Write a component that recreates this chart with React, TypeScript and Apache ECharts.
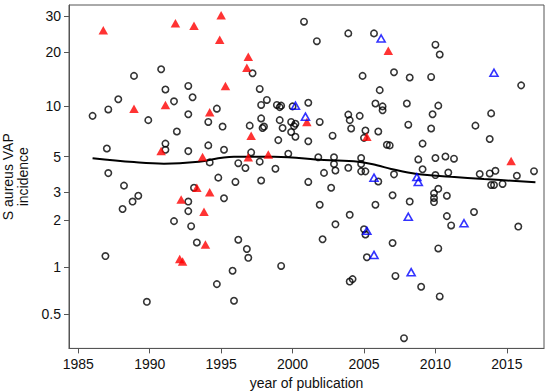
import React, { useEffect, useRef } from "react";
import * as echarts from "echarts";

// Tick labels
const xTickYears = [1985, 1990, 1995, 2000, 2005, 2010, 2015];
const yTickValues = [0.5, 1, 2, 3, 5, 10, 20, 30];

// Black open circles: studies (year, S aureus VAP incidence)
const circleYears = [
  1986.0, 1987.1, 1987.8, 1988.9, 1989.9, 1990.8, 1991.1, 1991.7, 1991.9, 1992.7,
  1993.0, 1992.7, 1987.0, 1991.1, 1991.1, 1992.7, 1987.1, 1988.2, 1989.2, 1988.8,
  1988.1, 1986.9, 1989.8, 1991.7, 1992.7, 1992.7, 1992.9, 1993.3, 1993.1, 2000.8,
  2003.9, 2005.7, 2001.7, 1997.2, 2004.9, 1997.7, 2006.1, 1998.2, 1997.8, 1994.7,
  1998.9, 1999.1, 1999.2, 2000.0, 2001.1, 2005.8, 2006.3, 2006.3, 1997.8, 1994.1,
  1995.1, 1997.0, 1999.1, 1999.9, 2000.2, 2000.1, 1999.3, 1997.9, 1998.0, 1999.9,
  2001.9, 2003.9, 2004.0, 2004.7, 2004.1, 2005.1, 2006.0, 2000.2, 2002.8, 2005.0,
  1999.0, 2001.1, 2006.6, 2006.8, 1994.1, 1995.2, 1997.1, 1999.7, 2001.8, 2002.9,
  2004.8, 1994.2, 1996.2, 1997.7, 2002.9, 2004.8, 1996.7, 1998.8, 2002.2, 2003.0,
  2003.9, 2004.8, 2005.1, 1994.8, 1996.0, 1997.8, 2001.1, 2002.7, 2006.0, 2007.0,
  1995.2, 2010.0, 2010.3, 2007.1, 2008.2, 2009.7, 2016.0, 2008.0, 2010.2, 2009.8,
  2013.9, 2008.1, 2009.7, 2012.8, 2013.8, 2009.1, 2008.8, 2010.0, 2010.7, 2011.3,
  2009.1, 2007.1, 2010.0, 2010.9, 2013.1, 2013.8, 2014.2, 2015.7, 2016.9, 2013.9,
  2014.1, 2014.7, 2009.9, 2009.9, 2009.9, 2010.2, 2010.8, 1996.2, 1996.8, 1996.9,
  1995.8, 1994.7, 1995.9, 1999.2, 2001.9, 2004.0, 2005.8, 2003.0, 2002.1, 2005.0,
  2005.1, 2005.2, 2004.0, 2004.2, 2007.0, 2008.2, 2012.7, 2010.8, 2011.1, 2015.8,
  2010.2, 2007.2, 2009.0, 2010.3, 2007.8,
];
const circleValues = [
  8.8, 9.6, 11.0, 14.9, 8.3, 16.2, 12.5, 10.7, 7.1, 13.1,
  11.3, 9.0, 5.6, 6.0, 5.5, 5.4, 3.95, 3.3, 2.85, 2.62,
  2.35, 1.18, 0.6, 1.97, 2.62, 2.28, 1.83, 1.44, 3.2, 28.2,
  24.8, 24.8, 22.7, 15.4, 14.9, 12.6, 12.4, 10.9, 10.2, 9.7,
  10.2, 9.9, 10.1, 10.0, 10.5, 10.4, 10.0, 9.5, 8.5, 8.1,
  7.6, 7.7, 8.3, 8.1, 7.9, 7.65, 7.45, 7.45, 7.6, 7.05,
  8.1, 8.95, 8.3, 8.8, 7.4, 7.2, 7.1, 6.6, 6.7, 6.5,
  6.3, 6.2, 5.9, 5.85, 5.85, 5.5, 5.3, 5.2, 4.95, 4.95,
  4.9, 4.6, 4.55, 4.65, 4.5, 4.5, 4.25, 4.2, 3.96, 4.1,
  4.26, 4.05, 4.05, 3.7, 3.48, 3.55, 3.48, 3.2, 3.5, 2.87,
  2.75, 21.8, 19.4, 15.6, 14.6, 14.7, 13.2, 10.4, 10.1, 9.0,
  9.1, 7.8, 7.4, 7.7, 6.4, 6.0, 4.8, 4.9, 5.0, 4.85,
  4.17, 3.88, 3.84, 3.98, 3.9, 3.93, 4.08, 3.8, 4.06, 3.33,
  3.33, 3.38, 2.95, 2.76, 2.6, 3.15, 2.85, 1.5, 1.31, 1.15,
  0.95, 0.78, 0.61, 1.02, 2.5, 2.16, 2.5, 1.88, 1.51, 1.75,
  1.62, 1.16, 0.81, 0.84, 1.43, 2.62, 2.25, 2.12, 1.85, 1.82,
  1.32, 0.88, 0.75, 0.65, 0.35,
];

// Red filled triangles
const redYears = [
  1986.75, 1991.8, 1993.1, 1995.0, 1994.9, 1996.9, 1996.8, 1995.3, 1988.9, 1991.1,
  1994.2, 1990.8, 1993.7, 1997.1, 2001.0, 1996.9, 1998.3, 1993.3, 1994.2, 1992.2,
  1993.8, 1993.9, 1992.1, 1992.3, 2006.7, 2005.2, 2015.3,
];
const redValues = [
  25.7, 27.7, 27.0, 30.2, 23.1, 18.9, 16.5, 13.1, 9.7, 10.2,
  9.25, 5.4, 4.97, 6.7, 8.1, 4.95, 5.15, 3.2, 3.0, 2.7,
  2.26, 1.4, 1.13, 1.09, 20.3, 6.6, 4.7,
];

// Blue open triangles
const blueYears = [2000.2, 2000.9, 2006.2, 2005.7, 2014.1, 2008.7, 2008.8, 2005.2, 2005.7, 2008.1, 2012.0, 2008.3];
const blueValues = [10.1, 8.7, 23.4, 3.7, 15.5, 3.73, 3.48, 1.71, 1.2, 2.1, 1.91, 0.93];

// Smoothed trend
const lineYears = [1986.0, 1988.9, 1991.0, 1993.2, 1995.9, 1998.7, 2002.2, 2004.6, 2005.9, 2006.9, 2008.7, 2011.1, 2013.4, 2017.0];
const lineValues = [4.88, 4.62, 4.52, 4.62, 4.98, 4.98, 4.76, 4.64, 4.42, 4.19, 3.9, 3.75, 3.63, 3.46];

const logit = (v: number) => Math.log(v / (100 - v));
const FONT = "'Liberation Sans', Arial, Helvetica, sans-serif";

export default function App() {
  const ref = useRef<HTMLDivElement>(null);
  useEffect(() => {
    if (!ref.current) return;
    const chart = echarts.init(ref.current, null, { renderer: "svg" });
    const yTickPos = yTickValues.map(logit);
    const pts = (xs: number[], vs: number[]) => xs.map((x, i) => [x, logit(vs[i])]);
    chart.setOption({
      animation: false,
      backgroundColor: "#ffffff",
      grid: {
        left: 69,
        right: 6,
        top: 5,
        bottom: 42.6,
        show: true,
        borderColor: "#555",
        borderWidth: 1,
        backgroundColor: "transparent",
        containLabel: false,
        outerBoundsMode: "none",
      },
      xAxis: {
        type: "value",
        min: 1984.35,
        max: 2017.6,
        name: "year of publication",
        nameLocation: "middle",
        nameGap: 25,
        nameTextStyle: { fontSize: 14, color: "#111", fontFamily: FONT },
        axisLine: { show: true, lineStyle: { color: "#555", width: 1 } },
        axisTick: { show: true, length: 5, customValues: xTickYears, lineStyle: { color: "#555" } },
        axisLabel: {
          customValues: xTickYears,
          fontSize: 14,
          color: "#111",
          margin: 9,
          fontFamily: FONT,
          formatter: (v: number) => String(Math.round(v)),
        },
        splitLine: { show: false },
      },
      yAxis: {
        type: "value",
        min: -5.804,
        max: -0.686,
        name: "S aureus VAP\nincidence",
        nameLocation: "middle",
        nameGap: 34,
        nameRotate: 90,
        nameTextStyle: { fontSize: 14, lineHeight: 15, color: "#111", fontFamily: FONT },
        axisLine: { show: true, lineStyle: { color: "#555", width: 1 } },
        axisTick: { show: true, length: 5, customValues: yTickPos, lineStyle: { color: "#555" } },
        axisLabel: {
          customValues: yTickPos,
          fontSize: 14,
          color: "#111",
          margin: 8,
          fontFamily: FONT,
          formatter: (v: number) => {
            let best = yTickValues[0];
            let bd = Infinity;
            for (const t of yTickValues) {
              const d = Math.abs(logit(t) - v);
              if (d < bd) { bd = d; best = t; }
            }
            return String(best);
          },
        },
        splitLine: { show: false },
      },
      series: [
        {
          type: "line",
          data: pts(lineYears, lineValues),
          smooth: 0.4,
          symbol: "none",
          lineStyle: { color: "#000", width: 2 },
          z: 2,
        },
        {
          type: "scatter",
          data: pts(circleYears, circleValues),
          symbol: "circle",
          symbolSize: 6.4,
          itemStyle: { color: "transparent", borderColor: "#000", borderWidth: 1.6 },
          z: 3,
        },
        {
          type: "scatter",
          data: pts(redYears, redValues),
          symbol: "triangle",
          symbolSize: [9.5, 8.5],
          itemStyle: { color: "#ff0000", borderWidth: 0 },
          z: 4,
        },
        {
          type: "scatter",
          data: pts(blueYears, blueValues),
          symbol: "triangle",
          symbolSize: [8, 7],
          itemStyle: { color: "transparent", borderColor: "#0000ff", borderWidth: 1.6 },
          z: 5,
        },
      ],
    });
    return () => chart.dispose();
  }, []);
  return (
    <div
      ref={ref}
      style={{ position: "fixed", left: 0, top: 0, width: 550, height: 391, background: "#fff" }}
    />
  );
}
